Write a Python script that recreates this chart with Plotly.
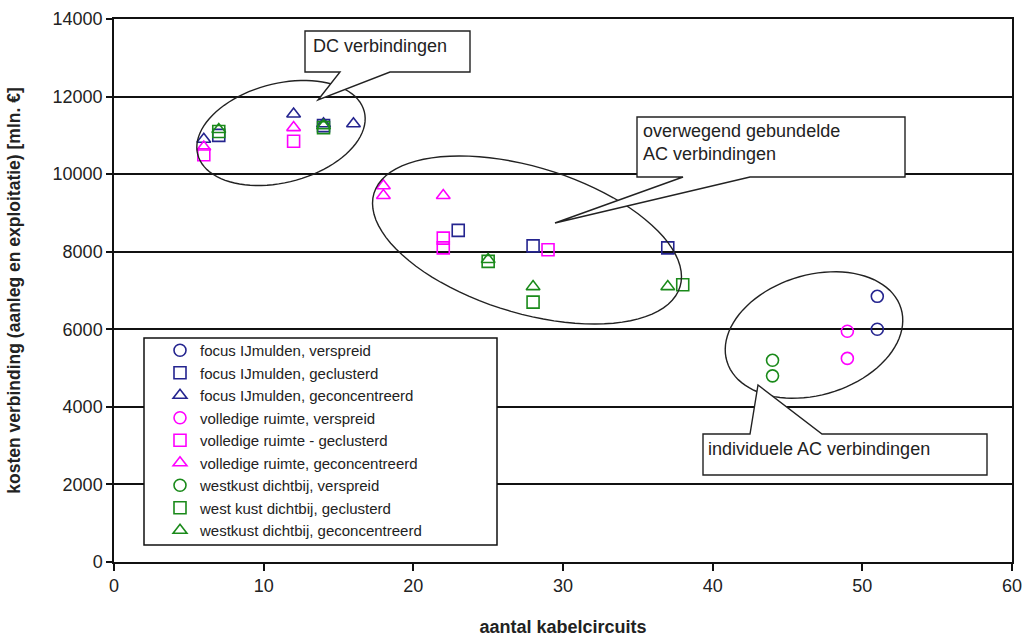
import math
import plotly.graph_objects as go

# ---------------- data ----------------
series_names = [
    "focus IJmulden, verspreid",
    "focus IJmulden, geclusterd",
    "focus IJmulden, geconcentreerd",
    "volledige ruimte, verspreid",
    "volledige ruimte - geclusterd",
    "volledige ruimte, geconcentreerd",
    "westkust dichtbij, verspreid",
    "west kust dichtbij, geclusterd",
    "westkust dichtbij, geconcentreerd",
]

ijm_versp_x = [51, 51]
ijm_versp_y = [6850, 6000]
ijm_clust_x = [7, 14, 23, 28, 37]
ijm_clust_y = [11000, 11250, 8550, 8150, 8100]
ijm_conc_x = [6, 12, 14, 16]
ijm_conc_y = [10900, 11550, 11300, 11300]

vr_versp_x = [49, 49]
vr_versp_y = [5950, 5250]
vr_clust_x = [6, 12, 22, 22, 29]
vr_clust_y = [10500, 10850, 8350, 8100, 8050]
vr_conc_x = [6, 12, 18, 18, 22]
vr_conc_y = [10700, 11200, 9700, 9450, 9450]

wk_versp_x = [44, 44]
wk_versp_y = [5200, 4800]
wk_clust_x = [7, 14, 25, 28, 38]
wk_clust_y = [11100, 11200, 7750, 6700, 7150]
wk_conc_x = [7, 14, 25, 28, 37]
wk_conc_y = [11150, 11250, 7800, 7100, 7100]

x_ticks = [0, 10, 20, 30, 40, 50, 60]
y_ticks = [0, 2000, 4000, 6000, 8000, 10000, 12000, 14000]

# ---------------- styling ----------------
BLUE = "#24248f"
MAGENTA = "#ff00ff"
GREEN = "#1a8a1a"
FONT = "Liberation Sans, Arial, sans-serif"
TXT = "#222222"

W, H = 1023, 637
ML, MR, MT, MB = 114, 11, 19, 75
PW = W - ML - MR
PH = H - MT - MB
XR = (0, 60)
YR = (0, 14000)


def px2x(px):
    return XR[0] + (px - ML) / PW * (XR[1] - XR[0])


def py2y(py):
    return YR[0] + (MT + PH - py) / PH * (YR[1] - YR[0])


def px2paper(px):
    return (px - ML) / PW


def py2paper(py):
    return (MT + PH - py) / PH


def ellipse_path(cx, cy, a, b, deg, n=90):
    th = math.radians(deg)
    pts = []
    for i in range(n):
        t = 2 * math.pi * i / n
        px = cx + a * math.cos(t) * math.cos(th) - b * math.sin(t) * math.sin(th)
        py = cy + a * math.cos(t) * math.sin(th) + b * math.sin(t) * math.cos(th)
        pts.append((px2x(px), py2y(py)))
    return "M " + " L ".join(f"{x:.4f},{y:.2f}" for x, y in pts) + " Z"


def poly_path(points):
    return "M " + " L ".join(f"{px2x(x):.4f},{py2y(y):.2f}" for x, y in points) + " Z"


traces = [
    (ijm_versp_x, ijm_versp_y, BLUE, "circle-open"),
    (ijm_clust_x, ijm_clust_y, BLUE, "square-open"),
    (ijm_conc_x, ijm_conc_y, BLUE, "triangle-up-open"),
    (vr_versp_x, vr_versp_y, MAGENTA, "circle-open"),
    (vr_clust_x, vr_clust_y, MAGENTA, "square-open"),
    (vr_conc_x, vr_conc_y, MAGENTA, "triangle-up-open"),
    (wk_versp_x, wk_versp_y, GREEN, "circle-open"),
    (wk_clust_x, wk_clust_y, GREEN, "square-open"),
    (wk_conc_x, wk_conc_y, GREEN, "triangle-up-open"),
]

fig = go.Figure()
for name, (xs, ys, col, sym) in zip(series_names, traces):
    fig.add_trace(go.Scatter(
        x=xs, y=ys, mode="markers", name=name,
        marker=dict(symbol=sym, size=12, color=col, line=dict(width=1.6, color=col)),
    ))

shapes = []
# legend frame
shapes.append(dict(type="rect", xref="paper", yref="paper",
                   x0=px2paper(144), x1=px2paper(497), y0=py2paper(545), y1=py2paper(338),
                   line=dict(color="#111111", width=1.5), fillcolor="white", layer="above"))
# ellipses
for cx, cy, a, b, deg in [(281, 133, 86, 49.5, -14.5), (527, 240, 160, 73, 17), (814, 335, 91, 60, -17)]:
    shapes.append(dict(type="path", xref="x", yref="y", path=ellipse_path(cx, cy, a, b, deg),
                       line=dict(color="#222222", width=1.4), fillcolor="rgba(0,0,0,0)", layer="above"))
# callout boxes with wedges
callouts = [
    [(305, 31), (470, 31), (470, 72), (390, 72), (318, 100), (340, 72), (305, 72)],
    [(637, 117), (905, 117), (905, 177), (750, 177), (555, 223), (683, 177), (637, 177)],
    [(703, 434), (750, 434), (758, 385), (822, 434), (987, 434), (987, 475), (703, 475)],
]
for pts in callouts:
    shapes.append(dict(type="path", xref="x", yref="y", path=poly_path(pts),
                       line=dict(color="#222222", width=1.4), fillcolor="white", layer="above"))

annotations = [
    dict(text="DC verbindingen", x=px2paper(311), y=py2paper(34), xanchor="left", yanchor="top"),
    dict(text="overwegend gebundelde<br>AC verbindingen", x=px2paper(641), y=py2paper(119),
         xanchor="left", yanchor="top", align="left"),
    dict(text="individuele AC verbindingen", x=px2paper(706), y=py2paper(437), xanchor="left", yanchor="top"),
]
for a in annotations:
    a.update(xref="paper", yref="paper", showarrow=False, font=dict(family=FONT, size=18, color=TXT))

fig.update_layout(
    width=W, height=H,
    margin=dict(l=ML, r=MR, t=MT, b=MB, pad=0, autoexpand=False),
    paper_bgcolor="white", plot_bgcolor="white",
    font=dict(family=FONT, color=TXT),
    showlegend=True,
    legend=dict(x=px2paper(160), y=py2paper(334), xanchor="left", yanchor="top",
                bgcolor="rgba(0,0,0,0)", borderwidth=0,
                font=dict(family=FONT, size=15, color=TXT), tracegroupgap=0),
    shapes=shapes,
    annotations=annotations,
)
fig.update_xaxes(
    automargin=False,
    range=list(XR), tickvals=x_ticks, ticktext=[str(v) for v in x_ticks],
    showgrid=False, zeroline=False,
    showline=True, linecolor="#111111", linewidth=1.5, mirror=True,
    ticks="outside", ticklen=7, tickwidth=1.5, tickcolor="#111111",
    tickfont=dict(family=FONT, size=18, color=TXT),
    title=dict(text="<b>aantal kabelcircuits</b>", font=dict(family=FONT, size=18, color=TXT), standoff=25),
)
fig.update_yaxes(
    automargin=False,
    range=list(YR), tickvals=y_ticks, ticktext=[str(v) for v in y_ticks],
    showgrid=True, gridcolor="#111111", gridwidth=1.5, zeroline=False,
    showline=True, linecolor="#111111", linewidth=1.5, mirror=True,
    ticks="outside", ticklen=6, tickwidth=1.5, tickcolor="#111111",
    tickfont=dict(family=FONT, size=18, color=TXT),
    title=dict(text="<b>kosten verbinding (aanleg en exploitatie) [mln. €]</b>",
               font=dict(family=FONT, size=17.5, color=TXT), standoff=27),
)

fig.write_html("out.html", config={"displayModeBar": False},
               post_script="document.body.style.margin='0';")
